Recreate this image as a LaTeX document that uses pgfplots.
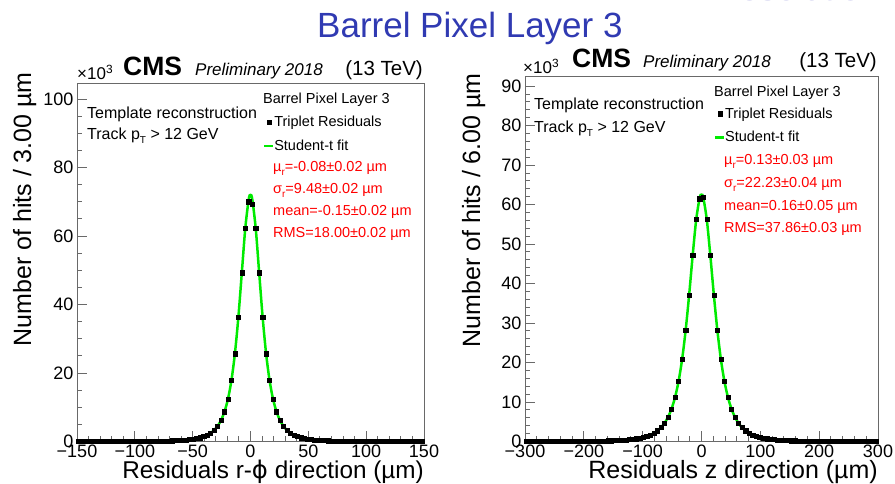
\documentclass[border=0pt]{standalone}
\usepackage{pgfplots}
\pgfplotsset{compat=1.18}
\usepackage{pgfplotstable}
\usepackage{fontspec}
\setmainfont{Liberation Sans}
\newfontfamily\dejavu{DejaVu Sans}
\definecolor{ttlblue}{RGB}{48,58,178}
\definecolor{ghost}{RGB}{170,170,225}
\definecolor{rootgreen}{RGB}{0,235,0}
\definecolor{rootred}{RGB}{255,0,0}
\definecolor{framec}{RGB}{105,105,105}
\newcommand{\fs}[1]{\fontsize{#1}{#1}\selectfont}
\newcommand{\sub}[1]{\raisebox{-0.45ex}{\fs{10}#1}}

\pgfplotstableread{
x hits fit
-148.5 0.011 0.011
-145.5 0.011 0.011
-142.5 0.012 0.012
-139.5 0.013 0.013
-136.5 0.015 0.015
-133.5 0.016 0.016
-130.5 0.017 0.017
-127.5 0.019 0.019
-124.5 0.021 0.021
-121.5 0.023 0.023
-118.5 0.026 0.026
-115.5 0.028 0.028
-112.5 0.031 0.031
-109.5 0.035 0.035
-106.5 0.039 0.039
-103.5 0.043 0.043
-100.5 0.049 0.049
-97.5 0.055 0.055
-94.5 0.062 0.062
-91.5 0.070 0.070
-88.5 0.080 0.080
-85.5 0.091 0.091
-82.5 0.105 0.105
-79.5 0.120 0.120
-76.5 0.140 0.140
-73.5 0.163 0.163
-70.5 0.191 0.191
-67.5 0.225 0.225
-64.5 0.267 0.267
-61.5 0.319 0.319
-58.5 0.384 0.384
-55.5 0.466 0.466
-52.5 0.572 0.572
-49.5 0.707 0.707
-46.5 0.885 0.885
-43.5 1.12 1.12
-40.5 1.43 1.43
-37.5 1.86 1.86
-34.5 2.46 2.46
-31.5 3.29 3.29
-28.5 4.47 4.47
-25.5 6.19 6.19
-22.5 8.69 8.69
-19.5 12.39 12.39
-16.5 17.82 17.82
-13.5 25.63 25.63
-10.5 36.27 36.27
-7.5 49.29 49.29
-4.5 62.29 62.29
-1.5 70.0 70.81
0 nan 72.0
1.5 69.4 70.81
4.5 62.29 62.29
7.5 49.29 49.29
10.5 36.27 36.27
13.5 25.63 25.63
16.5 17.82 17.82
19.5 12.39 12.39
22.5 8.69 8.69
25.5 6.19 6.19
28.5 4.47 4.47
31.5 3.29 3.29
34.5 2.46 2.46
37.5 1.86 1.86
40.5 1.43 1.43
43.5 1.12 1.12
46.5 0.885 0.885
49.5 0.707 0.707
52.5 0.572 0.572
55.5 0.466 0.466
58.5 0.384 0.384
61.5 0.319 0.319
64.5 0.267 0.267
67.5 0.225 0.225
70.5 0.191 0.191
73.5 0.163 0.163
76.5 0.140 0.140
79.5 0.120 0.120
82.5 0.105 0.105
85.5 0.091 0.091
88.5 0.080 0.080
91.5 0.070 0.070
94.5 0.062 0.062
97.5 0.055 0.055
100.5 0.049 0.049
103.5 0.043 0.043
106.5 0.039 0.039
109.5 0.035 0.035
112.5 0.031 0.031
115.5 0.028 0.028
118.5 0.026 0.026
121.5 0.023 0.023
124.5 0.021 0.021
127.5 0.019 0.019
130.5 0.017 0.017
133.5 0.016 0.016
136.5 0.015 0.015
139.5 0.013 0.013
142.5 0.012 0.012
145.5 0.011 0.011
148.5 0.011 0.011
}\datL

\pgfplotstableread{
x hits fit
-297 0.017 0.017
-291 0.019 0.019
-285 0.020 0.020
-279 0.022 0.022
-273 0.024 0.024
-267 0.026 0.026
-261 0.028 0.028
-255 0.031 0.031
-249 0.034 0.034
-243 0.037 0.037
-237 0.041 0.041
-231 0.046 0.046
-225 0.051 0.051
-219 0.056 0.056
-213 0.063 0.063
-207 0.070 0.070
-201 0.078 0.078
-195 0.088 0.088
-189 0.099 0.099
-183 0.112 0.112
-177 0.128 0.128
-171 0.146 0.146
-165 0.167 0.167
-159 0.192 0.192
-153 0.222 0.222
-147 0.258 0.258
-141 0.301 0.301
-135 0.354 0.354
-129 0.418 0.418
-123 0.498 0.498
-117 0.597 0.597
-111 0.721 0.721
-105 0.878 0.878
-99 1.08 1.08
-93 1.34 1.34
-87 1.68 1.68
-81 2.12 2.12
-75 2.72 2.72
-69 3.52 3.52
-63 4.62 4.62
-57 6.14 6.14
-51 8.24 8.24
-45 11.17 11.17
-39 15.23 15.23
-33 20.77 20.77
-27 28.09 28.09
-21 37.13 37.13
-15 47.11 47.11
-9 56.19 56.19
-3 61.5 61.75
0 nan 62.5
3 61.9 61.75
9 56.19 56.19
15 47.11 47.11
21 37.13 37.13
27 28.09 28.09
33 20.77 20.77
39 15.23 15.23
45 11.17 11.17
51 8.24 8.24
57 6.14 6.14
63 4.62 4.62
69 3.52 3.52
75 2.72 2.72
81 2.12 2.12
87 1.68 1.68
93 1.34 1.34
99 1.08 1.08
105 0.878 0.878
111 0.721 0.721
117 0.597 0.597
123 0.498 0.498
129 0.418 0.418
135 0.354 0.354
141 0.301 0.301
147 0.258 0.258
153 0.222 0.222
159 0.192 0.192
165 0.167 0.167
171 0.146 0.146
177 0.128 0.128
183 0.112 0.112
189 0.099 0.099
195 0.088 0.088
201 0.078 0.078
207 0.070 0.070
213 0.063 0.063
219 0.056 0.056
225 0.051 0.051
231 0.046 0.046
237 0.041 0.041
243 0.037 0.037
249 0.034 0.034
255 0.031 0.031
261 0.028 0.028
267 0.026 0.026
273 0.024 0.024
279 0.022 0.022
285 0.020 0.020
291 0.019 0.019
297 0.017 0.017
}\datR

\pgfplotsset{
  rootaxis/.style={
    scale only axis, anchor=south west,
    axis line style={framec, line width=1pt},
    tick style={framec, line width=0.9pt},
    tick align=inside,
    xtick pos=left, ytick pos=left,
    major tick length=10pt, minor tick length=5pt,
    ticklabel style={font=\fs{18}},
    /pgf/number format/assume math mode=true,
    legend cell align=left,
    reverse legend,
    legend style={draw=none, fill=none, font=\fs{14.5}, row sep=7.8pt, inner sep=0pt, column sep=-1pt, anchor=north west,
      nodes={inner xsep=0.6pt, inner ysep=2pt}},
  },
  markstyle/.style={only marks, mark=square*, mark size=2.1pt, black,
    legend image code/.code={\path[draw=none, fill=none] (0pt,-3pt) rectangle (9pt,3pt); \fill[black] (2.5pt,-2.1pt) rectangle (6.7pt,2.1pt);}},
  fitstyle/.style={rootgreen, line width=2.5pt, smooth, no marks,
    legend image code/.code={\path[draw=none, fill=none] (0pt,-3pt) rectangle (9pt,3pt); \draw[rootgreen, line width=2.5pt] (0pt,0pt) -- (9pt,0pt);}},
}

\begin{document}
\begin{tikzpicture}[x=1pt,y=1pt]
\useasboundingbox (0,0) rectangle (895,484);

% slide title
\node[anchor=base west, inner sep=0, text=ttlblue, font=\fs{35}] at (317,446) {Barrel Pixel Layer 3};
\node[anchor=base east, inner sep=0, text=ghost, font=\fs{35}] at (880,483.6) {Resolution};

% ---------------- left panel ----------------
\begin{axis}[rootaxis,
  at={(77pt,42.5pt)}, width=347pt, height=357.5pt,
  xmin=-150, xmax=150, ymin=0, ymax=104.4,
  xtick={-150,-100,-50,0,50,100,150},
  xticklabels={−150,−100,−50,0,50,100,150},
  minor x tick num=4,
  ytick={0,20,40,60,80,100},
  yticklabels={0,20,40,60,80,100},
  minor y tick num=3,
  legend style={at={(axis description cs:0.536,0.916)}},
]
\addplot[fitstyle] table[x=x,y=fit]{\datL};
\addlegendentry{Student-t fit}
\addplot[markstyle] table[x=x,y=hits]{\datL};
\addlegendentry{Triplet Residuals}
\end{axis}

% ---------------- right panel ----------------
\begin{axis}[rootaxis,
  at={(525pt,42.5pt)}, width=353pt, height=364.5pt,
  xmin=-300, xmax=300, ymin=0, ymax=92.3,
  xtick={-300,-200,-100,0,100,200,300},
  xticklabels={−300,−200,−100,0,100,200,300},
  minor x tick num=4,
  ytick={0,10,20,30,40,50,60,70,80,90},
  yticklabels={0,10,20,30,40,50,60,70,80,90},
  minor y tick num=4,
  legend style={at={(axis description cs:0.535,0.922)}},
]
\addplot[fitstyle] table[x=x,y=fit]{\datR};
\addlegendentry{Student-t fit}
\addplot[markstyle] table[x=x,y=hits]{\datR};
\addlegendentry{Triplet Residuals}
\end{axis}

% headers
\node[anchor=base west, inner sep=0, font=\fs{17}] at (77,404) {×10\textsuperscript{3}};
\node[anchor=base west, inner sep=0, font=\bfseries\fs{26.5}] at (123,408) {CMS};
\node[anchor=base west, inner sep=0, font=\itshape\fs{17}] at (195,408) {Preliminary 2018};
\node[anchor=base east, inner sep=0, font=\fs{20.5}] at (423,408) {(13 TeV)};

\node[anchor=base west, inner sep=0, font=\fs{17}] at (523,410) {×10\textsuperscript{3}};
\node[anchor=base west, inner sep=0, font=\bfseries\fs{26.5}] at (572,416) {CMS};
\node[anchor=base west, inner sep=0, font=\itshape\fs{17}] at (643,416) {Preliminary 2018};
\node[anchor=base east, inner sep=0, font=\fs{20.5}] at (877,416) {(13 TeV)};

% axis titles
\node[rotate=90, anchor=base east, inner sep=0, font=\fs{25}] at (31,412) {Number of hits / 3.00 µm};
\node[rotate=90, anchor=base east, inner sep=0, font=\fs{25}] at (480,411) {Number of hits / 6.00 µm};
\node[anchor=base east, inner sep=0, font=\fs{24.3}] at (424,5) {Residuals r-{\dejavu ϕ} direction (µm)};
\node[anchor=base east, inner sep=0, font=\fs{25}] at (878,5) {Residuals z direction (µm)};

% text inside left
\node[anchor=base west, inner sep=0, font=\fs{16}] at (87,365) {Template reconstruction};
\node[anchor=base west, inner sep=0, font=\fs{16}] at (87,344) {Track p\sub{T} > 12 GeV};
\node[anchor=base west, inner sep=0, font=\fs{14.5}] at (263,380) {Barrel Pixel Layer 3};
\node[anchor=base west, inner sep=0, font=\fs{14.5}, text=rootred] at (273,312) {µ\sub{r}=-0.08±0.02 µm};
\node[anchor=base west, inner sep=0, font=\fs{14.5}, text=rootred] at (273,290) {σ\sub{r}=9.48±0.02 µm};
\node[anchor=base west, inner sep=0, font=\fs{14.5}, text=rootred] at (273,268) {mean=-0.15±0.02 µm};
\node[anchor=base west, inner sep=0, font=\fs{14.5}, text=rootred] at (273,246) {RMS=18.00±0.02 µm};

% text inside right
\node[anchor=base west, inner sep=0, font=\fs{16}] at (534,374) {Template reconstruction};
\node[anchor=base west, inner sep=0, font=\fs{16}] at (534,351) {Track p\sub{T} > 12 GeV};
\node[anchor=base west, inner sep=0, font=\fs{14.5}] at (714,387) {Barrel Pixel Layer 3};
\node[anchor=base west, inner sep=0, font=\fs{14.5}, text=rootred] at (724,319) {µ\sub{r}=0.13±0.03 µm};
\node[anchor=base west, inner sep=0, font=\fs{14.5}, text=rootred] at (724,296) {σ\sub{r}=22.23±0.04 µm};
\node[anchor=base west, inner sep=0, font=\fs{14.5}, text=rootred] at (724,273) {mean=0.16±0.05 µm};
\node[anchor=base west, inner sep=0, font=\fs{14.5}, text=rootred] at (724,251) {RMS=37.86±0.03 µm};
\end{tikzpicture}
\end{document}
